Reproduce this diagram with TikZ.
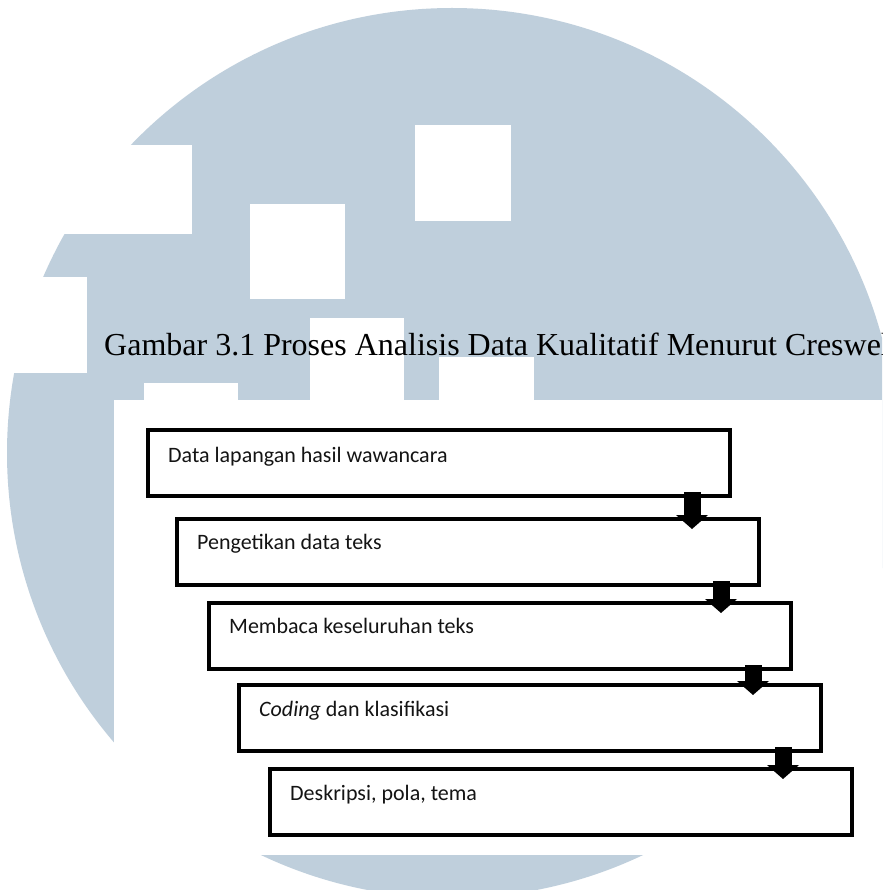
\documentclass[tikz,border=0pt]{standalone}
\usepackage{fontspec}
\setmainfont{Liberation Serif}
\newfontfamily\boxfont{Carlito}
\usetikzlibrary{arrows.meta,calc}
\definecolor{wmblue}{RGB}{191,207,220}
\begin{document}
\begin{tikzpicture}[x=1pt,y=-1pt,
  wmsquare/.style={fill=white},
  stepbox/.style={draw=black, line width=3.5pt, fill=white, rectangle,
    minimum width=582pt, minimum height=66pt, inner sep=0pt, outer sep=0pt,
    anchor=north west},
  steplabel/.style={anchor=base west, inner sep=0pt, text=black!92,
    font=\boxfont\fontsize{22}{26}\selectfont},
  flowarrow/.style={draw=black, line width=17pt,
    -{Triangle[width=32pt,length=14pt,line width=0pt]}}]
\useasboundingbox (0,0) rectangle (882,890);
\clip (0,0) rectangle (882,890);
\fill[white] (0,0) rectangle (882,890);
% watermark
\fill[wmblue] (452,453) circle[radius=445pt];
\fill[wmsquare] (60,145) rectangle (192,234);
\fill[wmsquare] (250,204) rectangle (345,299);
\fill[wmsquare] (415,125) rectangle (511,221);
\fill[wmsquare] (0,277) rectangle (87,373);
\fill[wmsquare] (310,318) rectangle (404,401);
\fill[wmsquare] (439,357) rectangle (534,401);
\fill[wmsquare] (144,383) rectangle (238,401);
\fill[wmsquare] (114,400) rectangle (882,855);
% title
\node[anchor=base west, inner sep=0pt, font=\fontsize{32}{38}\selectfont] (title) at (104,355)
  {Gambar 3.1 Proses Analisis Data Kualitatif Menurut Creswel};
% boxes
\node[stepbox] (b1) at (148,430) {};
\node[stepbox] (b2) at (177,519) {};
\node[stepbox] (b3) at (209,603) {};
\node[stepbox] (b4) at (239,685) {};
\node[stepbox] (b5) at (270,769) {};
\node[steplabel] (t1) at ($(b1.north west)+(20,32)$) {Data lapangan hasil wawancara};
\node[steplabel] (t2) at ($(b2.north west)+(20,30)$) {Pengetikan data teks};
\node[steplabel] (t3) at ($(b3.north west)+(20,30)$) {Membaca keseluruhan teks};
\node[steplabel] (t4) at ($(b4.north west)+(20,31)$) {{\itshape Coding} dan klasifikasi};
\node[steplabel] (t5) at ($(b5.north west)+(20,31)$) {Deskripsi, pola, tema};
% arrows
\foreach \i/\j in {1/2,2/3,3/4,4/5}{
  \coordinate (s\i) at ($(b\i.south east)+(-38,-4)$);
  \coordinate (e\i) at ($(b\j.north -| s\i)+(0,10)$);
  \draw[flowarrow] (s\i) -- (e\i);
}
\end{tikzpicture}
\end{document}
